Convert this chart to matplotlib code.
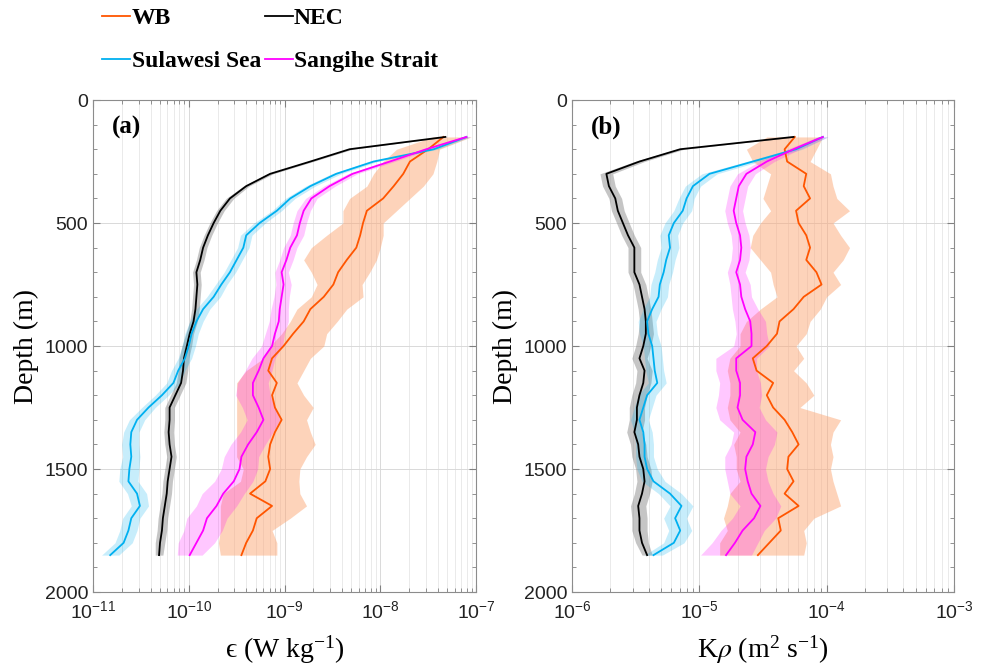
import numpy as np
import matplotlib
matplotlib.use('Agg')
import matplotlib.pyplot as plt
from matplotlib.ticker import FixedLocator, FuncFormatter, MultipleLocator, NullFormatter

plt.rcParams['font.family'] = ['Liberation Sans', 'DejaVu Sans']
plt.rcParams['mathtext.fontset'] = 'stix'

# depth grid (m)
depth = [150, 200, 250, 300, 350, 400, 450, 500, 550, 600, 650, 700, 750, 800, 850,
         900, 950, 1000, 1050, 1100, 1150, 1200, 1250, 1300, 1350, 1400, 1450, 1500,
         1550, 1600, 1650, 1700, 1750, 1800, 1850]

# panel (a): log10 of epsilon (W/kg)
eps_wb = [-7.34, -7.50, -7.69, -7.76, -7.86, -7.97, -8.14, -8.18, -8.21, -8.25, -8.35, -8.44,
          -8.49, -8.59, -8.73, -8.80, -8.91, -9.01, -9.13, -9.17, -9.08, -9.13, -9.10, -9.03,
          -9.10, -9.15, -9.17, -9.15, -9.20, -9.36, -9.13, -9.29, -9.33, -9.40, -9.45]
eps_wb_lo = [-7.45, -7.83, -7.97, -8.07, -8.14, -8.32, -8.39, -8.39, -8.56, -8.72, -8.80, -8.72,
             -8.66, -8.72, -8.87, -8.94, -9.03, -9.15, -9.22, -9.40, -9.50, -9.50, -9.50, -9.50,
             -9.50, -9.50, -9.50, -9.43, -9.46, -9.64, -9.67, -9.67, -9.67, -9.69, -9.67]
eps_wb_hi = [-7.05, -7.38, -7.41, -7.45, -7.55, -7.69, -7.83, -7.97, -7.97, -8.00, -8.04, -8.11,
             -8.19, -8.18, -8.35, -8.45, -8.56, -8.59, -8.73, -8.80, -8.87, -8.80, -8.70, -8.77,
             -8.73, -8.68, -8.77, -8.84, -8.85, -8.84, -8.77, -8.94, -9.13, -9.08, -9.08]
eps_nec = [-7.32, -8.32, -8.73, -9.15, -9.40, -9.57, -9.67, -9.74, -9.80, -9.85, -9.88, -9.92,
           -9.91, -9.92, -9.93, -9.95, -9.99, -10.02, -10.05, -10.06, -10.08, -10.14, -10.20,
           -10.20, -10.21, -10.20, -10.18, -10.20, -10.22, -10.23, -10.25, -10.27, -10.28,
           -10.30, -10.31]
eps_nec_sd = [0.02, 0.03, 0.03, 0.03, 0.03, 0.04, 0.04, 0.04, 0.04, 0.04, 0.04, 0.04, 0.04,
              0.04, 0.04, 0.04, 0.04, 0.05, 0.05, 0.05, 0.05, 0.05, 0.05, 0.05, 0.05, 0.05,
              0.05, 0.05, 0.05, 0.05, 0.05, 0.05, 0.05, 0.05, 0.04]
eps_sul = [-7.10, -7.44, -8.07, -8.46, -8.73, -8.94, -9.08, -9.26, -9.40, -9.43, -9.50, -9.57,
           -9.66, -9.74, -9.85, -9.92, -9.97, -10.00, -10.04, -10.11, -10.16, -10.28, -10.42,
           -10.54, -10.60, -10.61, -10.60, -10.62, -10.63, -10.54, -10.51, -10.60, -10.63,
           -10.68, -10.82]
eps_sul_sd = [0.04, 0.04, 0.04, 0.05, 0.05, 0.05, 0.05, 0.06, 0.06, 0.06, 0.06, 0.06, 0.06,
              0.07, 0.07, 0.07, 0.07, 0.07, 0.07, 0.07, 0.07, 0.07, 0.07, 0.08, 0.08, 0.09,
              0.09, 0.10, 0.10, 0.10, 0.09, 0.09, 0.09, 0.09, 0.09]
eps_san = [-7.10, -7.52, -7.90, -8.29, -8.53, -8.72, -8.80, -8.84, -8.87, -8.94, -8.98, -9.03,
           -9.01, -9.03, -9.05, -9.06, -9.10, -9.13, -9.22, -9.27, -9.33, -9.33, -9.27, -9.22,
           -9.29, -9.38, -9.45, -9.47, -9.53, -9.64, -9.71, -9.81, -9.85, -9.92, -9.99]
eps_san_sd = [0.04, 0.04, 0.05, 0.05, 0.06, 0.06, 0.07, 0.07, 0.07, 0.07, 0.07, 0.07, 0.08,
              0.08, 0.09, 0.10, 0.10, 0.11, 0.12, 0.14, 0.16, 0.18, 0.17, 0.17, 0.17, 0.18,
              0.18, 0.19, 0.20, 0.22, 0.21, 0.21, 0.20, 0.19, 0.13]

# panel (b): log10 of K_rho (m2/s)
k_wb = [-4.25, -4.33, -4.31, -4.16, -4.18, -4.13, -4.24, -4.22, -4.16, -4.13, -4.16, -4.08,
        -4.04, -4.18, -4.26, -4.37, -4.39, -4.47, -4.58, -4.55, -4.42, -4.47, -4.42, -4.33,
        -4.27, -4.22, -4.30, -4.31, -4.26, -4.33, -4.22, -4.38, -4.36, -4.45, -4.54]
k_wb_lo = [-4.47, -4.63, -4.58, -4.44, -4.47, -4.50, -4.44, -4.52, -4.58, -4.60, -4.52, -4.44,
           -4.42, -4.39, -4.52, -4.63, -4.68, -4.68, -4.76, -4.78, -4.76, -4.76, -4.78, -4.76,
           -4.68, -4.73, -4.71, -4.71, -4.68, -4.76, -4.78, -4.81, -4.78, -4.84, -4.84]
k_wb_hi = [-4.03, -4.08, -4.13, -3.97, -3.95, -3.92, -3.82, -3.95, -3.89, -3.82, -3.87, -3.95,
           -3.89, -4.00, -4.05, -4.13, -4.16, -4.24, -4.18, -4.26, -4.16, -4.10, -4.21, -3.89,
           -3.95, -3.97, -3.95, -3.97, -3.95, -3.92, -3.89, -4.10, -4.18, -4.16, -4.18]
k_nec = [-4.26, -5.15, -5.47, -5.73, -5.71, -5.66, -5.64, -5.60, -5.56, -5.51, -5.51, -5.51,
         -5.47, -5.45, -5.43, -5.42, -5.42, -5.44, -5.47, -5.43, -5.44, -5.47, -5.49, -5.49,
         -5.51, -5.48, -5.47, -5.44, -5.43, -5.45, -5.48, -5.47, -5.47, -5.45, -5.41]
k_nec_sd = [0.02, 0.03, 0.04, 0.05, 0.05, 0.05, 0.05, 0.05, 0.05, 0.05, 0.05, 0.05, 0.05,
            0.05, 0.05, 0.05, 0.06, 0.06, 0.06, 0.06, 0.06, 0.06, 0.06, 0.06, 0.06, 0.06,
            0.06, 0.06, 0.06, 0.06, 0.06, 0.06, 0.06, 0.05, 0.04]
k_sul = [-4.03, -4.24, -4.58, -4.92, -5.05, -5.10, -5.13, -5.20, -5.24, -5.23, -5.26, -5.28,
         -5.31, -5.32, -5.37, -5.41, -5.40, -5.37, -5.36, -5.35, -5.33, -5.41, -5.44, -5.47,
         -5.44, -5.43, -5.43, -5.41, -5.36, -5.23, -5.14, -5.19, -5.15, -5.20, -5.36]
k_sul_sd = [0.04, 0.05, 0.05, 0.06, 0.06, 0.06, 0.07, 0.07, 0.07, 0.07, 0.07, 0.07, 0.07,
            0.07, 0.07, 0.07, 0.07, 0.07, 0.07, 0.07, 0.07, 0.07, 0.07, 0.07, 0.07, 0.07,
            0.07, 0.08, 0.09, 0.09, 0.09, 0.09, 0.09, 0.08, 0.07]
k_san = [-4.03, -4.26, -4.47, -4.63, -4.69, -4.71, -4.73, -4.71, -4.68, -4.67, -4.68, -4.71,
         -4.68, -4.67, -4.64, -4.60, -4.59, -4.59, -4.71, -4.71, -4.68, -4.68, -4.70, -4.66,
         -4.56, -4.58, -4.63, -4.64, -4.62, -4.59, -4.52, -4.57, -4.66, -4.72, -4.79]
k_san_sd = [0.04, 0.05, 0.06, 0.07, 0.07, 0.07, 0.07, 0.07, 0.07, 0.07, 0.07, 0.07, 0.08,
            0.08, 0.10, 0.12, 0.12, 0.14, 0.16, 0.16, 0.16, 0.17, 0.17, 0.18, 0.17, 0.17,
            0.17, 0.16, 0.16, 0.17, 0.16, 0.17, 0.17, 0.18, 0.20]

c_wb, c_nec, c_sul, c_san = '#ff5500', 'black', '#00b0f0', '#ff00ff'

z = np.array(depth)


def band_plot(ax, m, lo, hi, color, fill, alpha, label):
    ax.fill_betweenx(z, 10 ** np.array(lo), 10 ** np.array(hi), color=fill,
                     alpha=alpha, lw=0)
    ax.plot(10 ** np.array(m), z, color=color, lw=1.3, label=label)


def sd_plot(ax, m, sd, color, fill, alpha, label):
    m = np.array(m)
    sd = np.array(sd)
    band_plot(ax, m, m - sd, m + sd, color, fill, alpha, label)


def tick_fmt(v, pos):
    e = int(round(np.log10(v)))
    return r'$\mathregular{10^{%d}}$' % e


fig = plt.figure(figsize=(9.86, 6.70), dpi=100)
ax1 = fig.add_axes([0.0943, 0.1164, 0.3885, 0.7343])
ax2 = fig.add_axes([0.5801, 0.1164, 0.3874, 0.7343])

band_plot(ax1, eps_wb, eps_wb_lo, eps_wb_hi, c_wb, '#fca877', 0.5, 'WB')
sd_plot(ax1, eps_nec, eps_nec_sd, c_nec, 'grey', 0.45, 'NEC')
sd_plot(ax1, eps_sul, eps_sul_sd, c_sul, c_sul, 0.22, 'Sulawesi Sea')
sd_plot(ax1, eps_san, eps_san_sd, c_san, c_san, 0.22, 'Sangihe Strait')

band_plot(ax2, k_wb, k_wb_lo, k_wb_hi, c_wb, '#fca877', 0.5, 'WB')
sd_plot(ax2, k_nec, k_nec_sd, c_nec, 'grey', 0.45, 'NEC')
sd_plot(ax2, k_sul, k_sul_sd, c_sul, c_sul, 0.22, 'Sulawesi Sea')
sd_plot(ax2, k_san, k_san_sd, c_san, c_san, 0.22, 'Sangihe Strait')

serif = ['Liberation Serif', 'DejaVu Serif']
for ax, (e0, e1), lab in [(ax1, (-11, -7), '(a)'), (ax2, (-6, -3), '(b)')]:
    ax.set_xscale('log')
    ax.set_xlim(10.0 ** e0, 10.0 ** e1)
    ax.set_ylim(2000, 0)
    decades = [10.0 ** e for e in range(e0, e1 + 1)]
    minors = [m * 10.0 ** e for e in range(e0, e1) for m in range(2, 10)]
    ax.xaxis.set_major_locator(FixedLocator(decades))
    ax.xaxis.set_minor_locator(FixedLocator(minors))
    ax.xaxis.set_major_formatter(FuncFormatter(tick_fmt))
    ax.xaxis.set_minor_formatter(NullFormatter())
    ax.yaxis.set_major_locator(MultipleLocator(500))
    ax.yaxis.set_minor_locator(MultipleLocator(100))
    ax.grid(True, which='major', color='#d9d9d9', lw=0.7)
    ax.grid(True, which='minor', axis='x', color='#e6e6e6', lw=0.6)
    ax.set_axisbelow(True)
    ax.tick_params(which='both', direction='in', top=True, right=True,
                   color='#808080', labelsize=14, labelcolor='#222222')
    ax.tick_params(which='major', length=5)
    ax.tick_params(which='minor', length=3)
    ax.tick_params(axis='x', pad=6)
    for s in ax.spines.values():
        s.set_color('#8c8c8c')
        s.set_linewidth(0.8)
    ax.set_ylabel('Depth (m)', family=serif, fontsize=20, labelpad=4)
    ax.text(0.05, 0.945, lab, transform=ax.transAxes, family=serif, fontsize=18,
            fontweight='bold', va='center')

ax1.set_xlabel('ϵ (W kg$\\mathregular{^{-1}}$)', family=serif, fontsize=20, labelpad=8)
ax2.set_xlabel(r'K$\rho$ (m$\mathregular{^{2}}$ s$\mathregular{^{-1}}$)', family=serif,
               fontsize=20, labelpad=8)

# legend: row 1 WB, NEC; row 2 Sulawesi Sea, Sangihe Strait
handles, labels = ax1.get_legend_handles_labels()
order = [0, 2, 1, 3]
fig.legend([handles[i] for i in order], [labels[i] for i in order], loc='upper left',
           bbox_to_anchor=(0.082, 1.02), ncol=2, frameon=False, handlelength=1.2,
           handletextpad=0.05, columnspacing=0.15, labelspacing=0.9,
           prop={'family': serif, 'weight': 'bold', 'size': 17})

fig.savefig('out.png', dpi=100)
